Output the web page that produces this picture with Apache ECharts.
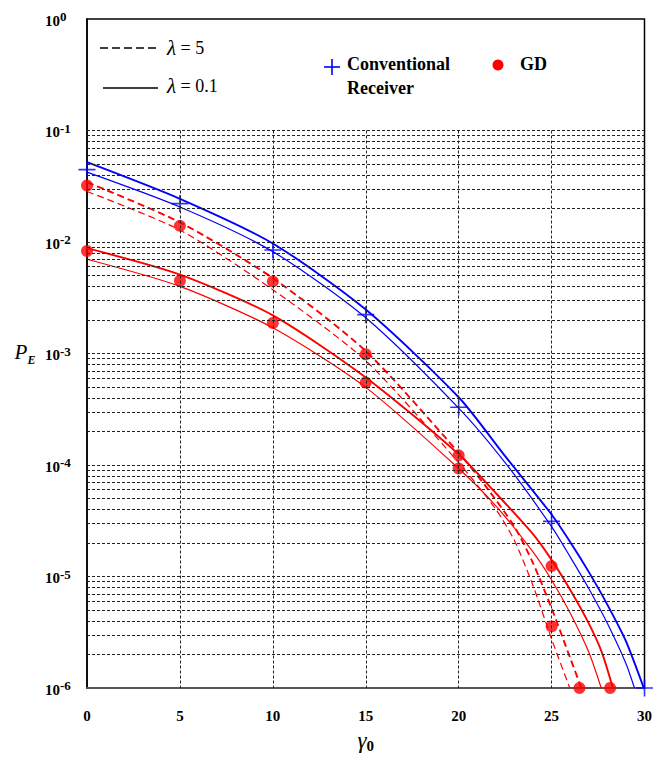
<!DOCTYPE html>
<html>
<head>
<meta charset="utf-8">
<script src="https://cdn.jsdelivr.net/npm/echarts@6/dist/echarts.min.js"></script>
<style>
html,body{margin:0;padding:0;background:#fff;}
#chart{width:655px;height:758px;}
</style>
</head>
<body>
<div id="chart"></div>
<script>
// ---------- data ----------
const xTicks = [0, 5, 10, 15, 20, 25, 30];
const yExponents = [0, -1, -2, -3, -4, -5, -6];

// Conventional receiver curves (blue, solid)
const convUpper = [[0,0.052],[5,0.0244],[10,0.0097],[15,0.00248],[20,4.05e-4],[22.5,1.2e-4],[25,3.6e-5],[26,2.04e-5],[27,1.1e-5],[28,5.6e-6],[29,2.63e-6],[29.96,1e-6]];
const convLower = [[0,0.0423],[5,0.0206],[10,0.0082],[15,0.00209],[20,3.24e-4],[22.5,1.05e-4],[25,2.8e-5],[26,1.5e-5],[27,7.8e-6],[28,3.8e-6],[29,1.66e-6],[29.46,1e-6]];
const convMarks = [[0,0.0446],[5,0.0221],[10,0.00847],[15,0.00223],[20,3.3e-4],[25,3.12e-5],[30,1e-6]];

// GD curves, lambda = 5 (red, dashed)
const gdL5Upper = [[0,0.0344],[5,0.0150],[10,0.00474],[15,1.05e-3],[20,1.29e-4],[21.5,6.3e-5],[23,2.8e-5],[24,1.32e-5],[25,5.2e-6],[26,1.86e-6],[26.6,1e-6]];
const gdL5Lower = [[0,0.0284],[5,0.0128],[10,0.00373],[15,8.6e-4],[20,1.05e-4],[22,4.0e-5],[23,2.1e-5],[24,8.3e-6],[25,2.75e-6],[25.98,1e-6]];
const gdL5Marks = [[0,0.0321],[5,0.01396],[10,0.00443],[15,9.84e-4],[20,1.22e-4],[25,3.57e-6],[26.5,1e-6]];

// GD curves, lambda = 0.1 (red, solid)
const gdL01Upper = [[0,0.0088],[5,0.0051],[10,0.0022],[15,6.1e-4],[20,1.25e-4],[22,5.6e-5],[24,2.4e-5],[25,1.41e-5],[26,7.6e-6],[27,3.8e-6],[27.7,2.1e-6],[28.3,1e-6]];
const gdL01Lower = [[0,0.0070],[5,0.0040],[10,0.0017],[15,4.97e-4],[20,9.3e-5],[22,4.3e-5],[24,1.66e-5],[25,9.3e-6],[26,4.7e-6],[27,2.1e-6],[27.67,1e-6]];
const gdL01Marks = [[0,0.0083],[5,0.00449],[10,0.00188],[15,5.5e-4],[20,9.3e-5],[25,1.24e-5],[28.15,1e-6]];

// grid lines
const gridMantissas = [1,2,3,4,5,6,7,8,9];
const gridDecades = [-2,-3,-4,-5,-6];
const gridTop = 0.1;
const gridBottom = 1e-6;
const vGridX = [5, 10, 15, 20, 25];

// ---------- build ----------
const hLines = [{yAxis: gridTop}];
gridDecades.forEach(k => gridMantissas.forEach(m => {
  const v = m * Math.pow(10, k);
  if (v > gridBottom * 1.0001) hLines.push({yAxis: v});
}));
const vLines = vGridX.map(x => [{coord: [x, gridTop]}, {coord: [x, gridBottom]}]);

const BLUE = '#0000ff', RED = '#ff0000';
const SERIF = '"Liberation Serif", "DejaVu Serif", serif';
const plusPath = 'path://M7.25,0H8.75V7.25H16V8.75H8.75V16H7.25V8.75H0V7.25H7.25Z';

function curve(name, data, color, width, dashed) {
  return {
    name: name, type: 'line', data: data, smooth: 0.25, symbol: 'none',
    lineStyle: {color: color, width: width, type: dashed ? [7, 4] : 'solid'},
    z: 3, silent: true
  };
}

const chart = echarts.init(document.getElementById('chart'), null, {renderer: 'svg'});
chart.setOption({
  animation: false,
  backgroundColor: '#fff',
  grid: {left: 87, right: 10, top: 19, bottom: 65, show: true, borderColor: '#000', borderWidth: 1.5, backgroundColor: 'transparent'},
  xAxis: {
    type: 'value', min: 0, max: 30, interval: 5,
    axisLine: {show: true, lineStyle: {color: '#555', width: 2}},
    axisTick: {show: false},
    splitLine: {show: false},
    axisLabel: {margin: 20, color: '#000', fontFamily: SERIF, fontWeight: 'bold', fontSize: 15},
    name: '{g|γ}{z|0}', nameLocation: 'middle', nameGap: 53,
    nameTextStyle: {
      align: 'center', verticalAlign: 'middle',
      rich: {
        g: {fontFamily: SERIF, fontStyle: 'italic', fontSize: 23, color: '#000', verticalAlign: 'top', lineHeight: 24},
        z: {fontFamily: SERIF, fontWeight: 'bold', fontSize: 15, color: '#000', verticalAlign: 'bottom', lineHeight: 24}
      }
    }
  },
  yAxis: {
    type: 'log', logBase: 10, min: 1e-6, max: 1, splitNumber: 6,
    axisLine: {show: true, lineStyle: {color: '#000', width: 1.5}},
    axisTick: {show: false},
    splitLine: {show: false},
    minorSplitLine: {show: false},
    axisLabel: {
      margin: 42, align: 'left',
      formatter: function (v) {
        const e = Math.round(Math.log10(v));
        return '{b|10}{s|' + (yExponents.indexOf(e) >= 0 ? String(e) : '') + '}';
      },
      rich: {
        b: {fontFamily: SERIF, fontWeight: 'bold', fontSize: 15, color: '#000', verticalAlign: 'bottom', lineHeight: 18},
        s: {fontFamily: SERIF, fontWeight: 'bold', fontSize: 13, color: '#000', verticalAlign: 'top', lineHeight: 18}
      }
    },
    name: '{p|P}{e|E}', nameLocation: 'middle', nameRotate: 0, nameGap: 62,
    nameTextStyle: {
      align: 'center', verticalAlign: 'middle',
      rich: {
        p: {fontFamily: SERIF, fontStyle: 'italic', fontSize: 21, color: '#000', verticalAlign: 'top', lineHeight: 25},
        e: {fontFamily: SERIF, fontStyle: 'italic', fontWeight: 'bold', fontSize: 12, color: '#000', verticalAlign: 'bottom', lineHeight: 25}
      }
    }
  },
  series: [
    {
      name: 'grid', type: 'line', data: [], symbol: 'none', silent: true, z: 1,
      markLine: {
        silent: true, symbol: ['none', 'none'], label: {show: false}, animation: false,
        precision: 12,
        lineStyle: {color: '#222', width: 1, type: [3, 2]},
        emphasis: {disabled: true},
        data: hLines.concat(vLines)
      }
    },
    curve('Conventional (upper)', convUpper, BLUE, 1.9, false),
    curve('Conventional (lower)', convLower, BLUE, 1.2, false),
    curve('GD λ=5 (upper)', gdL5Upper, RED, 1.9, true),
    curve('GD λ=5 (lower)', gdL5Lower, RED, 1.2, true),
    curve('GD λ=0.1 (upper)', gdL01Upper, RED, 1.9, false),
    curve('GD λ=0.1 (lower)', gdL01Lower, RED, 1.2, false),
    {name: 'Conventional Receiver', type: 'scatter', data: convMarks, symbol: plusPath, symbolSize: 17, clip: false, itemStyle: {color: BLUE}, z: 4, silent: true},
    {name: 'GD λ=5', type: 'scatter', data: gdL5Marks, symbol: 'circle', symbolSize: 12, clip: false, itemStyle: {color: RED}, z: 4, silent: true},
    {name: 'GD λ=0.1', type: 'scatter', data: gdL01Marks, symbol: 'circle', symbolSize: 12, clip: false, itemStyle: {color: RED}, z: 4, silent: true}
  ],
  graphic: [
    // line-style key
    {type: 'line', shape: {x1: 100, y1: 48, x2: 158, y2: 48}, style: {stroke: '#000', lineWidth: 1.6, lineDash: [8, 4]}},
    {type: 'text', x: 167, y: 48, style: {text: '{l|λ}{t| = 5}', verticalAlign: 'middle', fill: '#000',
      rich: {l: {fontFamily: SERIF, fontStyle: 'italic', fontSize: 21, fill: '#000'}, t: {fontFamily: SERIF, fontSize: 18, fill: '#000'}}}},
    {type: 'line', shape: {x1: 103, y1: 88, x2: 158, y2: 88}, style: {stroke: '#000', lineWidth: 1.6}},
    {type: 'text', x: 167, y: 86, style: {text: '{l|λ}{t| = 0.1}', verticalAlign: 'middle', fill: '#000',
      rich: {l: {fontFamily: SERIF, fontStyle: 'italic', fontSize: 21, fill: '#000'}, t: {fontFamily: SERIF, fontSize: 18, fill: '#000'}}}},
    // marker key
    {type: 'line', shape: {x1: 324, y1: 67, x2: 340, y2: 67}, style: {stroke: BLUE, lineWidth: 1.6}},
    {type: 'line', shape: {x1: 332, y1: 59, x2: 332, y2: 75}, style: {stroke: BLUE, lineWidth: 1.6}},
    {type: 'text', x: 347, y: 64, style: {text: 'Conventional', verticalAlign: 'middle', fill: '#000', fontFamily: SERIF, fontWeight: 'bold', fontSize: 18}},
    {type: 'text', x: 347, y: 88, style: {text: 'Receiver', verticalAlign: 'middle', fill: '#000', fontFamily: SERIF, fontWeight: 'bold', fontSize: 18}},
    {type: 'circle', shape: {cx: 498, cy: 65, r: 5.5}, style: {fill: RED}},
    {type: 'text', x: 520, y: 64, style: {text: 'GD', verticalAlign: 'middle', fill: '#000', fontFamily: SERIF, fontWeight: 'bold', fontSize: 18}}
  ]
});
</script>
</body>
</html>
